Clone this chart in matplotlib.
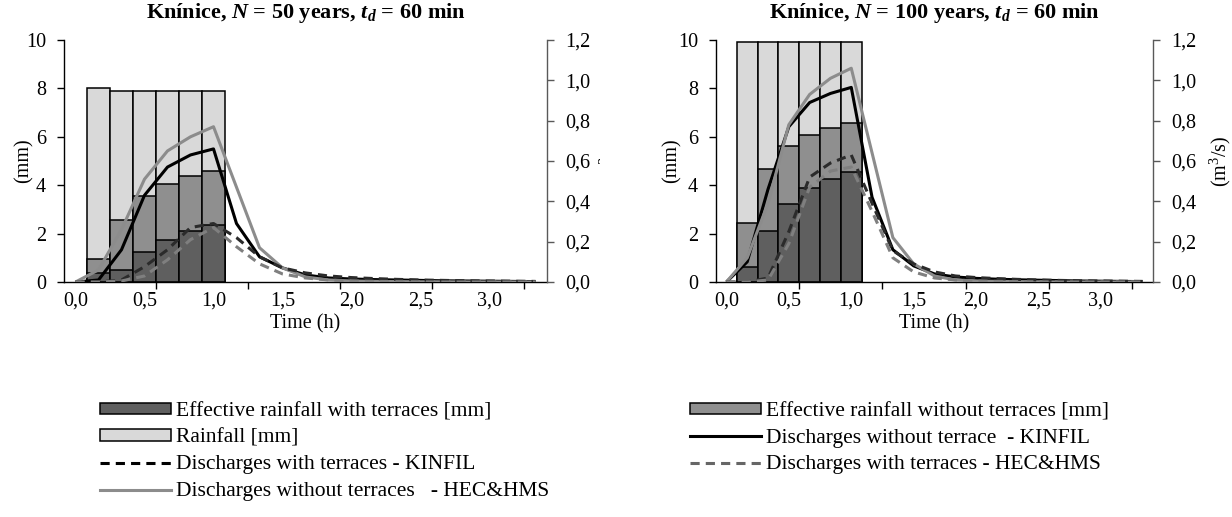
import matplotlib
matplotlib.use('Agg')
import matplotlib.pyplot as plt
from matplotlib.patches import Patch, Rectangle
from matplotlib.lines import Line2D
from matplotlib.ticker import FixedLocator, FuncFormatter

plt.rcParams['font.family'] = ['Liberation Serif', 'DejaVu Serif']
plt.rcParams['mathtext.fontset'] = 'custom'
plt.rcParams['mathtext.rm'] = 'Liberation Serif'
plt.rcParams['mathtext.it'] = 'Liberation Serif:italic'
plt.rcParams['mathtext.bf'] = 'Liberation Serif:bold'
plt.rcParams['mathtext.bfit'] = 'Liberation Serif:italic:bold'

# ---------------- data ----------------
time_min = [0, 10, 20, 30, 40, 50, 60, 70, 80, 90, 100,
            110, 120, 130, 140, 150, 160, 170, 180, 190, 200]
rain_time_min = [10, 20, 30, 40, 50, 60]
x_tick_labels = ["0,0", "0,5", "1,0", "1,5", "2,0", "2,5", "3,0"]
x_tick_hours = [0.0, 0.5, 1.0, 1.5, 2.0, 2.5, 3.0]

# N = 50 years
rain50 = [8.0, 7.9, 7.9, 7.9, 7.9, 7.9]
eff_wo50 = [0.95, 2.55, 3.57, 4.05, 4.38, 4.57]
eff_w50 = [0.38, 0.5, 1.22, 1.75, 2.1, 2.37]
q_kin_wo50 = [0, 0.01, 0.16, 0.43, 0.57, 0.63, 0.66, 0.29, 0.125, 0.07, 0.035,
              0.02, 0.015, 0.012, 0.01, 0.008, 0.006, 0.005, 0.004, 0.003, 0.002]
q_hec_wo50 = [0, 0.06, 0.26, 0.51, 0.65, 0.72, 0.77, 0.47, 0.17, 0.07, 0.025,
              0.01, 0.005, 0.003, 0.002, 0.001, 0.001, 0, 0, 0, 0]
q_kin_w50 = [0, 0.0, 0.01, 0.076, 0.16, 0.27, 0.29, 0.22, 0.125, 0.07, 0.045,
             0.03, 0.022, 0.017, 0.013, 0.01, 0.008, 0.006, 0.005, 0.004, 0.003]
q_hec_w50 = [0, 0, 0.005, 0.03, 0.11, 0.21, 0.27, 0.175, 0.09, 0.04, 0.02,
             0.01, 0.005, 0.003, 0.002, 0.001, 0, 0, 0, 0, 0]

# N = 100 years
rain100 = [9.9, 9.9, 9.9, 9.9, 9.9, 9.9]
eff_wo100 = [2.45, 4.68, 5.6, 6.07, 6.36, 6.58]
eff_w100 = [0.62, 2.1, 3.23, 3.87, 4.27, 4.53]
q_kin_wo100 = [0, 0.1, 0.46, 0.77, 0.89, 0.935, 0.965, 0.42, 0.16, 0.08, 0.04,
               0.025, 0.018, 0.014, 0.011, 0.009, 0.007, 0.005, 0.004, 0.003, 0.002]
q_hec_wo100 = [0, 0.12, 0.39, 0.78, 0.93, 1.01, 1.06, 0.64, 0.22, 0.09, 0.03,
               0.01, 0.005, 0.003, 0.002, 0.001, 0, 0, 0, 0, 0]
q_kin_w100 = [0, 0, 0.02, 0.25, 0.52, 0.59, 0.63, 0.39, 0.155, 0.09, 0.05,
              0.03, 0.022, 0.017, 0.013, 0.01, 0.008, 0.006, 0.005, 0.004, 0.003]
q_hec_w100 = [0, 0, 0.01, 0.19, 0.47, 0.55, 0.57, 0.35, 0.12, 0.05, 0.02,
              0.01, 0.005, 0.003, 0.002, 0.001, 0, 0, 0, 0, 0]

title50 = r"Knínice, $\mathbfit{N}$ = 50 years, $\mathbfit{t}_{\mathbfit{d}}$ = 60 min"
title100 = r"Knínice, $\mathbfit{N}$ = 100 years, $\mathbfit{t}_{\mathbfit{d}}$ = 60 min"

lbl_eff_w = "Effective rainfall with terraces [mm]"
lbl_eff_wo = "Effective rainfall without terraces [mm]"
lbl_rain = "Rainfall [mm]"
lbl_kin_wo = "Discharges without terrace  - KINFIL"
lbl_kin_w = "Discharges with terraces - KINFIL"
lbl_hec_w = "Discharges with terraces - HEC&HMS"
lbl_hec_wo = "Discharges without terraces   - HEC&HMS"

# ---------------- style ----------------
C_RAIN = '#d9d9d9'
C_EFF_WO = '#8f8f8f'
C_EFF_W = '#5f5f5f'
C_KIN_WO = '#000000'
C_HEC_WO = '#8c8c8c'
C_KIN_W = '#2b2b2b'
C_HEC_W = '#7f7f7f'
LW = 2.2
DASH = (3, 2)
FS = 14.5
FS_TITLE = 16
FS_LEG = 15.5

W, H = 1232, 517
fig = plt.figure(figsize=(W / 100, H / 100), dpi=100)

t_h = [m / 60 for m in time_min]
rt_h = [m / 60 for m in rain_time_min]
bar_w = 10 / 60
minor_x = [(i * 4 + 3.5) * 10 / 60 for i in range(5)]


def comma(v, pos):
    return f"{v:.1f}".replace('.', ',')


def panel(left_px, right_px, rain, eff_wo, eff_w, qkwo, qhwo, qkw, qhw,
          title, ylab_x, y2lab_x):
    top_px, bot_px = 40, 282
    ax = fig.add_axes([left_px / W, (H - bot_px) / H,
                       (right_px - left_px) / W, (bot_px - top_px) / H])
    ax.bar(rt_h, rain, width=bar_w, color=C_RAIN, edgecolor='black', linewidth=1.1, zorder=2)
    ax.bar(rt_h, eff_wo, width=bar_w, color=C_EFF_WO, edgecolor='black', linewidth=1.1, zorder=3)
    ax.bar(rt_h, eff_w, width=bar_w, color=C_EFF_W, edgecolor='black', linewidth=1.1, zorder=4)
    ax.set_xlim(-5 / 60, 205 / 60)
    ax.set_ylim(0, 10)
    ax.set_yticks([0, 2, 4, 6, 8, 10])
    ax.xaxis.set_major_locator(FixedLocator(x_tick_hours))
    ax.set_xticklabels(x_tick_labels)
    ax.xaxis.set_minor_locator(FixedLocator(minor_x))
    ax.tick_params(axis='x', which='major', length=0, pad=7, labelsize=FS)
    ax.tick_params(axis='x', which='minor', length=5, width=1.0, direction='out')
    ax.tick_params(axis='y', length=5, width=1.0, pad=8, labelsize=FS)
    for s in ['top', 'right']:
        ax.spines[s].set_visible(False)
    ax.spines['left'].set_linewidth(1.0)
    ax.spines['bottom'].set_linewidth(1.0)
    ax.spines['bottom'].set_zorder(6)
    ax.set_xlabel("Time (h)", fontsize=FS)
    ax.xaxis.set_label_coords(0.5, -0.135)
    ax.set_ylabel("(mm)", fontsize=FS)
    ax.yaxis.set_label_coords(ylab_x, 0.5)
    ax.text(0.5, 1.0 + 27 / 242, title, transform=ax.transAxes, ha='center', va='center',
            fontsize=FS_TITLE, fontweight='bold')

    ax2 = ax.twinx()
    ax2.set_ylim(0, 1.2)
    ax2.set_yticks([0, 0.2, 0.4, 0.6, 0.8, 1.0, 1.2])
    ax2.yaxis.set_major_formatter(FuncFormatter(comma))
    ax2.tick_params(axis='y', length=5, width=1.0, pad=8, labelsize=FS, color='#595959')
    for s in ['top', 'left', 'bottom']:
        ax2.spines[s].set_visible(False)
    ax2.spines['right'].set_color('#595959')
    ax2.spines['right'].set_linewidth(1.0)
    ax2.plot(t_h, qkwo, color=C_KIN_WO, lw=LW, solid_capstyle='butt')
    ax2.plot(t_h, qhwo, color=C_HEC_WO, lw=LW, solid_capstyle='butt')
    ax2.plot(t_h, qkw, color=C_KIN_W, lw=LW, dashes=DASH)
    ax2.plot(t_h, qhw, color=C_HEC_W, lw=LW, dashes=DASH)
    ax2.set_ylabel("(m$^3$/s)", fontsize=FS, rotation=90)
    ax2.yaxis.set_label_coords(y2lab_x, 0.5)
    return ax, ax2


panel(64, 547, rain50, eff_wo50, eff_w50, q_kin_wo50, q_hec_wo50, q_kin_w50, q_hec_w50,
      title50, -0.062, 1.105)
panel(716, 1153, rain100, eff_wo100, eff_w100, q_kin_wo100, q_hec_wo100, q_kin_w100, q_hec_w100,
      title100, -0.078, 1.125)

# hide most of the left chart's secondary label (as in the reference)
fig.add_artist(Rectangle((600 / W, 0.35), 55 / W, 0.6, transform=fig.transFigure,
                         facecolor='white', edgecolor='none', zorder=20))

# ---------------- legend ----------------
def patch(c):
    return Patch(facecolor=c, edgecolor='black', linewidth=1.1)


h1 = [patch(C_EFF_W), patch(C_RAIN),
      Line2D([], [], color='black', lw=LW, dashes=DASH),
      Line2D([], [], color=C_HEC_WO, lw=LW)]
l1 = [lbl_eff_w, lbl_rain, lbl_kin_w, lbl_hec_wo]
h2 = [patch(C_EFF_WO),
      Line2D([], [], color='black', lw=LW),
      Line2D([], [], color='#666666', lw=LW, dashes=DASH)]
l2 = [lbl_eff_wo, lbl_kin_wo, lbl_hec_w]

common = dict(loc='upper left', frameon=False, borderpad=0, borderaxespad=0,
              handlelength=3.3, handletextpad=0.25, labelspacing=0.36, fontsize=FS_LEG,
              handleheight=0.45)
leg1 = fig.legend(h1, l1, bbox_to_anchor=(100 / W, 1 - 402 / H), **common)
leg2 = fig.legend(h2, l2, bbox_to_anchor=(690 / W, 1 - 402 / H), **common)

fig.savefig('out.png', dpi=100)
